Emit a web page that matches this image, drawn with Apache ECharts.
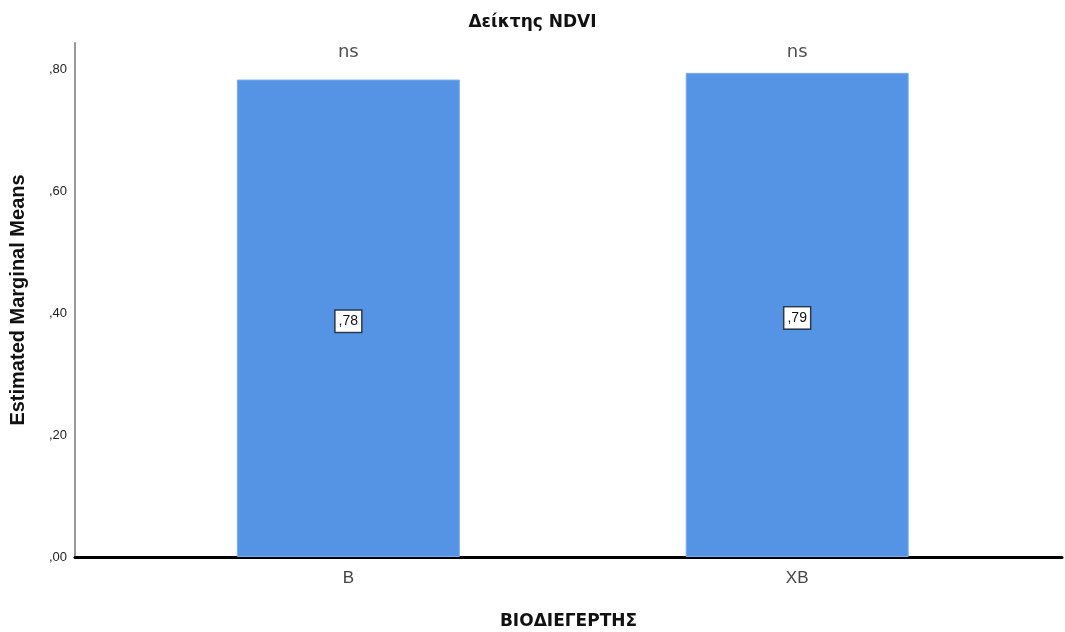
<!DOCTYPE html>
<html><head><meta charset="utf-8">
<script src="https://cdn.jsdelivr.net/npm/echarts@6/dist/echarts.min.js"></script>
<style>html,body{margin:0;padding:0;background:#fff}#c{width:1065px;height:632px}</style>
</head><body><div id="c"></div>
<script>
var categories = ['B', 'XB'];
var means = [0.784, 0.795];
var valueLabels = [',78', ',79'];
var sigLabels = ['ns', 'ns'];
var yTicks = [0, 0.2, 0.4, 0.6, 0.8];
var yMax = 0.844;

var positions = categories.map(function (c, i) { return i + 1; });
var chart = echarts.init(document.getElementById('c'));
var font = 'Liberation Sans, Arial, sans-serif';
var dv = 'DejaVu Sans, sans-serif';
chart.setOption({
  animation: false,
  backgroundColor: '#fff',
  title: { text: 'Δείκτης NDVI', left: 'center', top: 9,
    textStyle: { fontFamily: dv, fontSize: 17, fontWeight: 'bold', color: '#111' } },
  grid: { left: 75, right: 3, top: 43, bottom: 75, outerBoundsMode: 'none', containLabel: false },
  xAxis: {
    type: 'value', min: 0.391, max: 2.59,
    name: 'ΒΙΟΔΙΕΓΕΡΤΗΣ', nameLocation: 'middle', nameGap: 56,
    nameTextStyle: { fontFamily: dv, fontSize: 17, fontWeight: 'bold', color: '#111' },
    axisLine: { show: true, onZero: false, lineStyle: { color: '#000', width: 3 } },
    axisTick: { show: false },
    splitLine: { show: false },
    axisLabel: { customValues: positions, margin: 13, fontFamily: font, fontSize: 17, color: '#444',
      formatter: function (v) { return categories[Math.round(v) - 1] || ''; } }
  },
  yAxis: {
    type: 'value', min: 0, max: yMax, interval: 0.2,
    name: 'Estimated Marginal Means', nameLocation: 'middle', nameGap: 47,
    nameTextStyle: { fontFamily: font, fontSize: 20, fontWeight: 'bold', color: '#111' },
    axisLine: { show: true, lineStyle: { color: '#999', width: 2 } },
    axisTick: { show: false },
    splitLine: { show: false },
    axisLabel: { customValues: yTicks, margin: 8, fontFamily: font, fontSize: 13, color: '#222',
      formatter: function (v) { return v.toFixed(2).replace(/^0\./, ','); } }
  },
  series: [{
    type: 'bar', barWidth: 223,
    data: positions.map(function (p, i) { return [p, means[i]]; }),
    itemStyle: { color: '#5594E4', borderColor: '#7aaeea', borderWidth: 1 },
    label: { show: true, position: 'inside', offset: [0, 3],
      formatter: function (p) { return valueLabels[p.dataIndex]; },
      fontFamily: font, fontSize: 14, color: '#111', backgroundColor: '#fff',
      borderColor: '#2a3a4a', borderWidth: 1.5, padding: [4, 3, 3, 3] }
  }, {
    type: 'scatter', symbolSize: 0,
    data: positions.map(function (p) { return [p, yMax]; }),
    label: { show: true, position: 'inside', offset: [0, 9],
      formatter: function (p) { return sigLabels[p.dataIndex]; },
      fontFamily: dv, fontSize: 18, color: '#222' }
  }]
});
</script></body></html>
